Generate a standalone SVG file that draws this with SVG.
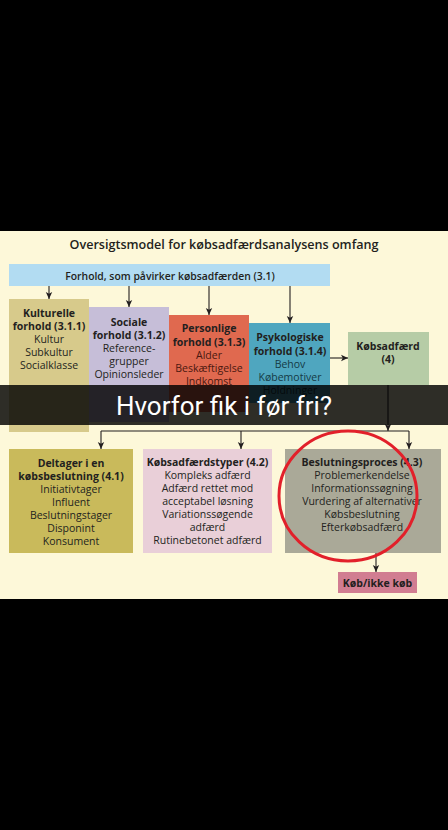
<svg xmlns="http://www.w3.org/2000/svg" width="448" height="830" viewBox="0 0 448 830">
<defs>
<marker id="ah" markerWidth="8" markerHeight="8" refX="7" refY="4" orient="auto" markerUnits="userSpaceOnUse">
<path d="M0,0.8 L7,4 L0,7.2 L1.8,4 z" fill="#231f20"/>
</marker>
<style>
.t{font-family:"Open Sans","Noto Sans",sans-serif;font-size:10.5px;fill:#231f20;text-anchor:middle}
.b{font-weight:700}
.ln{stroke:#231f20;stroke-width:1.1;fill:none}
.ar{marker-end:url(#ah)}
</style>
</defs>
<rect x="0" y="0" width="448" height="830" fill="#000"/>
<rect x="0" y="231" width="448" height="368" fill="#fdf8d9"/>
<text x="224" y="249" class="t" style="font-size:12.6px;font-weight:600">Oversigtsmodel for købsadfærdsanalysens omfang</text>

<g id="banner">
<rect x="9" y="264" width="321" height="22" fill="#b2dcf2"/>
<text x="170" y="279.5" class="t" style="font-size:10.4px;font-weight:600">Forhold, som påvirker købsadfærden (3.1)</text>
</g>

<g id="kulturelle">
<rect x="9" y="299" width="80" height="133" fill="#d7ca8b"/>
<text class="t b" x="49" y="317">Kulturelle</text>
<text class="t b" x="49" y="330">forhold (3.1.1)</text>
<text class="t" x="49" y="343">Kultur</text>
<text class="t" x="49" y="356">Subkultur</text>
<text class="t" x="49" y="369">Socialklasse</text>
</g>

<g id="sociale">
<rect x="89" y="307" width="80" height="115" fill="#c6bed8"/>
<text class="t b" x="129" y="326">Sociale</text>
<text class="t b" x="129" y="339">forhold (3.1.2)</text>
<text class="t" x="129" y="352">Reference-</text>
<text class="t" x="129" y="365">grupper</text>
<text class="t" x="129" y="378">Opinionsleder</text>
</g>

<g id="personlige">
<rect x="169" y="315" width="80" height="97" fill="#e0694f"/>
<text class="t b" x="209" y="332">Personlige</text>
<text class="t b" x="209" y="346">forhold (3.1.3)</text>
<text class="t" x="209" y="359" style="fill:#4a1810">Alder</text>
<text class="t" x="209" y="372" style="fill:#4a1810">Beskæftigelse</text>
<text class="t" x="209" y="385" style="fill:#4a1810">Indkomst</text>
</g>

<g id="psykologiske">
<rect x="249" y="323" width="81" height="80" fill="#4fa6bf"/>
<text class="t b" x="290" y="341">Psykologiske</text>
<text class="t b" x="290" y="355">forhold (3.1.4)</text>
<text class="t" x="290" y="368" style="fill:#153a45">Behov</text>
<text class="t" x="290" y="381" style="fill:#153a45">Købemotiver</text>
<text class="t" x="290" y="394" style="fill:#153a45">Holdninger</text>
</g>

<g id="koebsadfaerd">
<rect x="348" y="332" width="81" height="53" fill="#b6cca6"/>
<text class="t b" x="388" y="350">Købsadfærd</text>
<text class="t b" x="388" y="363">(4)</text>
</g>

<g id="deltager">
<rect x="9" y="449" width="124" height="104" fill="#c9ba5b"/>
<text class="t b" x="71" y="467">Deltager i en</text>
<text class="t b" x="71" y="480">købsbeslutning (4.1)</text>
<text class="t" x="71" y="493">Initiativtager</text>
<text class="t" x="71" y="506">Influent</text>
<text class="t" x="71" y="519">Beslutningstager</text>
<text class="t" x="71" y="532">Disponint</text>
<text class="t" x="71" y="545">Konsument</text>
</g>

<g id="typer">
<rect x="143" y="449" width="129" height="104" fill="#e9cfd8"/>
<text class="t b" x="207.5" y="466">Købsadfærdstyper (4.2)</text>
<text class="t" x="207.5" y="479">Kompleks adfærd</text>
<text class="t" x="207.5" y="492">Adfærd rettet mod</text>
<text class="t" x="207.5" y="505">acceptabel løsning</text>
<text class="t" x="207.5" y="518">Variationssøgende</text>
<text class="t" x="207.5" y="531">adfærd</text>
<text class="t" x="207.5" y="544">Rutinebetonet adfærd</text>
</g>

<g id="beslutningsproces">
<rect x="285" y="449" width="156" height="104" fill="#aaa998"/>
<text class="t b" x="362" y="466">Beslutningsproces (4.3)</text>
<text class="t" x="362" y="479">Problemerkendelse</text>
<text class="t" x="362" y="492">Informationssøgning</text>
<text class="t" x="362" y="505">Vurdering af alternativer</text>
<text class="t" x="362" y="518">Købsbeslutning</text>
<text class="t" x="362" y="531">Efterkøbsadfærd</text>
</g>

<g id="koeb">
<rect x="338" y="572" width="79" height="21" fill="#d17d91"/>
<text class="t b" x="377.5" y="586.5">Køb/ikke køb</text>
</g>

<g id="connectors">
<line class="ln ar" x1="49" y1="286" x2="49" y2="299"/>
<line class="ln ar" x1="129" y1="286" x2="129" y2="307"/>
<line class="ln ar" x1="209" y1="286" x2="209" y2="315"/>
<line class="ln ar" x1="290" y1="286" x2="290" y2="323"/>
<line class="ln ar" x1="330" y1="358" x2="348" y2="358"/>
<line class="ln ar" x1="388" y1="385" x2="388" y2="431"/>
<line class="ln" x1="101" y1="431" x2="409" y2="431"/>
<line class="ln ar" x1="101" y1="431" x2="101" y2="449"/>
<line class="ln ar" x1="241" y1="431" x2="241" y2="449"/>
<line class="ln ar" x1="409" y1="431" x2="409" y2="449"/>
<line class="ln ar" x1="376" y1="553" x2="376" y2="572"/>
</g>

<ellipse cx="348" cy="496" rx="69" ry="65" fill="none" stroke="#e2202a" stroke-width="3"/>

<g id="caption">
<rect x="0" y="385" width="448" height="40" fill="#000" fill-opacity="0.82"/>
<text x="224" y="415" style="font-family:Roboto,'Noto Sans',sans-serif;font-size:26px;fill:#fff;text-anchor:middle">Hvorfor fik i før fri?</text>
</g>
</svg>
